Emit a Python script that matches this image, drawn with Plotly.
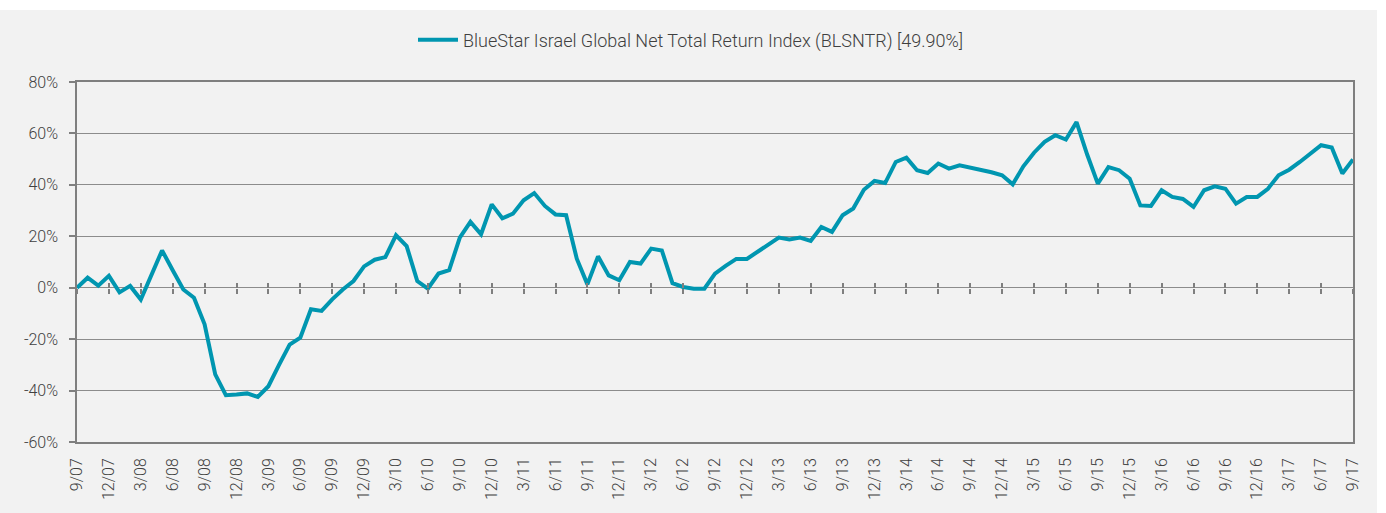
import plotly.graph_objects as go

# Monthly cumulative return (%) from 9/07 to 9/17
months = []
for k in range(121):
    m = (9 + k - 1) % 12 + 1
    y = 7 + (9 + k - 1) // 12
    months.append(f"{m}/{y:02d}")

values = [0, 3.9, 0.8, 4.6, -1.8, 0.7, -4.6, 5.0, 14.5, 6.8, -0.7, -3.9, -14.2, -33.7,
          -41.8, -41.5, -41.1, -42.5, -38.3, -30.0, -22.1, -19.4, -8.4, -9.0, -4.5, -0.7,
          2.6, 8.3, 10.9, 11.9, 20.4, 16.2, 2.6, -0.4, 5.5, 6.8, 19.5, 25.6, 20.8, 32.4,
          27.0, 28.8, 34.0, 36.8, 31.8, 28.5, 28.2, 11.3, 1.3, 12.2, 4.8, 2.9, 10.0, 9.4,
          15.2, 14.5, 1.8, 0.3, -0.4, -0.4, 5.5, 8.5, 11.2, 11.2, 13.9, 16.5, 19.5, 18.8,
          19.5, 18.2, 23.6, 21.7, 28.2, 30.8, 38.1, 41.5, 40.7, 48.9, 50.6, 45.7, 44.6,
          48.3, 46.3, 47.6, 46.8, 45.8, 44.9, 43.7, 40.2, 47.2, 52.5, 56.7, 59.3, 57.6,
          64.4, 51.8, 40.5, 46.9, 45.7, 42.4, 32.0, 31.8, 37.9, 35.3, 34.5, 31.4, 37.9,
          39.4, 38.5, 32.7, 35.3, 35.3, 38.5, 43.7, 45.9, 48.9, 52.4, 55.4, 54.5, 44.4,
          49.9]

series_name = "BlueStar Israel Global Net Total Return Index (BLSNTR) [49.90%]"
y_ticks = [-60, -40, -20, 0, 20, 40, 60, 80]
y_ticktext = ["-60%", "-40%", "-20%", "0%", "20%", "40%", "60%", "80%"]

xs = list(range(len(months)))
tick_idx = xs[::3]
tick_text = [months[i] for i in tick_idx]

FONT = "Roboto, sans-serif"
TXT = "#404040"
AX = "#7f7f7f"
GRID = "#8c8c8c"
LINE = "#0096b0"

fig = go.Figure()
fig.add_trace(go.Scatter(x=xs, y=values, mode="lines", name=series_name,
                         line=dict(color=LINE, width=4)))

W, H = 1386, 513
L, R, T, B = 77, 33, 82, 71
pw, ph = W - L - R, H - T - B

zero_pos = (0 - y_ticks[0]) / (y_ticks[-1] - y_ticks[0])

common_x = dict(range=[0, len(months) - 1], tickvals=tick_idx, showgrid=False,
                zeroline=False)

fig.update_layout(
    width=W, height=H,
    margin=dict(l=L, r=R, t=T, b=B, pad=0),
    paper_bgcolor="white",
    plot_bgcolor="white",
    font=dict(family=FONT, size=16, color=TXT, weight=300),
    showlegend=True,
    legend=dict(orientation="h", x=(691 - L) / pw, xanchor="center",
                y=(H - B - 40) / ph, yanchor="middle", itemwidth=40,
                bgcolor="rgba(0,0,0,0)",
                font=dict(family=FONT, size=18, color=TXT, weight=300)),
    xaxis=dict(**common_x, ticktext=tick_text, tickangle=-90, ticks="",
               showline=True, linecolor=AX, linewidth=1.5, mirror=True,
               ticklabelstandoff=8,
               tickfont=dict(family=FONT, size=16, color=TXT, weight=300)),
    xaxis2=dict(**common_x, overlaying="x", anchor="free", position=zero_pos,
                ticks="outside", ticklen=5, tickwidth=1.5, tickcolor=AX,
                showticklabels=False, showline=False),
    xaxis3=dict(**common_x, overlaying="x", anchor="free", position=zero_pos,
                ticks="inside", ticklen=5, tickwidth=1.5, tickcolor=AX,
                showticklabels=False, showline=False),
    yaxis=dict(range=[y_ticks[0], y_ticks[-1]], tickvals=y_ticks, ticktext=y_ticktext,
               showgrid=True, gridcolor=GRID, gridwidth=1, zeroline=False,
               showline=True, linecolor=AX, linewidth=1.5, mirror=True,
               ticks="outside", ticklen=6, tickwidth=1.5, tickcolor=AX,
               ticklabelstandoff=8,
               tickfont=dict(family=FONT, size=16, color=TXT, weight=300)),
)

# invisible traces so the overlay tick axes render
for ax in ["x2", "x3"]:
    fig.add_trace(go.Scatter(x=[xs[0]], y=[values[0]], xaxis=ax, mode="lines",
                             showlegend=False, hoverinfo="skip",
                             line=dict(color="rgba(0,0,0,0)")))

# light gray chart-area background
fig.add_shape(type="rect", xref="paper", yref="paper", layer="below",
              x0=(0 - L) / pw, x1=(1377 - L) / pw,
              y0=(H - B - 513) / ph, y1=(H - B - 10) / ph,
              fillcolor="#f2f2f2", line=dict(width=0))

fig.write_html("out.html")
